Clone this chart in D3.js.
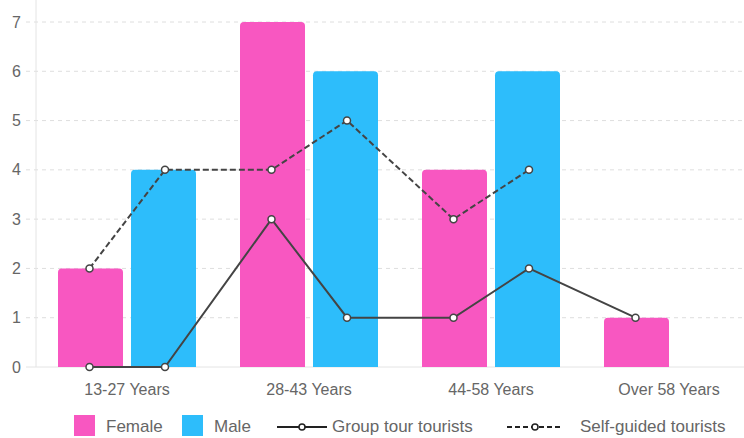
<!DOCTYPE html>
<html><head><meta charset="utf-8">
<script src="https://cdn.jsdelivr.net/npm/d3@7"></script>
<style>
html,body{margin:0;padding:0;background:#fff;}
svg{display:block;font-family:"Liberation Sans",Arial,Helvetica,sans-serif;}
</style></head>
<body>
<svg id="chart" width="744" height="438"></svg>
<script>
const categories = ["13-27 Years", "28-43 Years", "44-58 Years", "Over 58 Years"];
const female = [2, 7, 4, 1];
const male = [4, 6, 6, 0];
// line series: one point per (category, gender) slot; null = no point
const groupTour = [[0, 0], [3, 1], [1, 2], [1, null]];
const selfGuided = [[2, 4], [4, 5], [3, 4], [null, null]];
const yTicks = [0, 1, 2, 3, 4, 5, 6, 7];

const pink = "#f857c1", blue = "#2dbdfb", lineCol = "#444";
const svg = d3.select("#chart");
const x0 = 36, x1 = 764, yTop = 22, yBot = 367;

const x = d3.scaleBand().domain(categories).range([x0, x1]).paddingInner(0).paddingOuter(0);
const sub = d3.scaleBand().domain(["F", "M"]).range([0, x.bandwidth()]).paddingInner(8 / 73).paddingOuter(22 / 73);
const y = d3.scaleLinear().domain([0, 7]).range([yBot, yTop]);

// grid
const yAxis = d3.axisLeft(y).tickValues(yTicks).tickFormat(d3.format("d")).tickSize(0).tickPadding(0);
svg.append("g").selectAll("line").data(yTicks.filter(d => d > 0)).join("line")
  .attr("x1", 26).attr("x2", 744).attr("y1", d => y(d)).attr("y2", d => y(d))
  .attr("stroke", "#dedede").attr("stroke-width", 1).attr("stroke-dasharray", "4,4");
// axis lines
svg.append("line").attr("x1", x0).attr("x2", x0).attr("y1", 0).attr("y2", yBot).attr("stroke", "#e4e4e4");
svg.append("line").attr("x1", 26).attr("x2", 744).attr("y1", yBot).attr("y2", yBot).attr("stroke", "#e4e4e4");

const ga = svg.append("g").attr("transform", `translate(21,0)`).call(yAxis);
ga.select(".domain").remove();
ga.selectAll("text").attr("fill", "#666").attr("font-size", 16).attr("text-anchor", "end").attr("font-family", "Liberation Sans, Arial, sans-serif");

// bars
function roundTop(xp, yp, w, h, r) {
  r = Math.min(r, h);
  return `M${xp},${yp + h}V${yp + r}Q${xp},${yp} ${xp + r},${yp}H${xp + w - r}Q${xp + w},${yp} ${xp + w},${yp + r}V${yp + h}Z`;
}
const bars = [];
categories.forEach((c, i) => {
  bars.push({c, g: "F", v: female[i], col: pink});
  bars.push({c, g: "M", v: male[i], col: blue});
});
svg.append("g").selectAll("path").data(bars.filter(d => d.v > 0)).join("path")
  .attr("d", d => roundTop(x(d.c) + sub(d.g), y(d.v), sub.bandwidth(), y(0) - y(d.v), 4))
  .attr("fill", d => d.col);

// lines
function pts(series) {
  const out = [];
  categories.forEach((c, i) => {
    ["F", "M"].forEach((g, j) => {
      const v = series[i][j];
      if (v !== null) out.push({xp: x(c) + sub(g) + sub.bandwidth() / 2 + (j === 0 ? -1 : 1.5), v});
    });
  });
  return out;
}
const line = d3.line().x(d => d.xp).y(d => y(d.v));
[[groupTour, null], [selfGuided, "6,3"]].forEach(([s, dash]) => {
  const p = pts(s);
  svg.append("path").datum(p).attr("d", line).attr("fill", "none")
    .attr("stroke", lineCol).attr("stroke-width", 2).attr("stroke-dasharray", dash);
  svg.append("g").selectAll("circle").data(p).join("circle")
    .attr("cx", d => d.xp).attr("cy", d => y(d.v)).attr("r", 3.5)
    .attr("fill", "#fff").attr("stroke", lineCol).attr("stroke-width", 1.5);
});

// x labels
svg.append("g").selectAll("text").data(categories).join("text")
  .attr("x", d => x(d) + x.bandwidth() / 2 - (d === "Over 58 Years" ? 4 : 0)).attr("y", 395)
  .attr("text-anchor", "middle").attr("fill", "#666").attr("font-size", 16).text(d => d);

// legend
const lg = svg.append("g");
const lgItems = [
  {type: "box", col: pink, label: "Female", x: 74},
  {type: "box", col: blue, label: "Male", x: 182},
];
lgItems.forEach(it => {
  lg.append("rect").attr("x", it.x).attr("y", 415).attr("width", 21).attr("height", 21).attr("fill", it.col);
  lg.append("text").attr("x", it.x + 32).attr("y", 432).attr("fill", "#666").attr("font-size", 17).text(it.label);
});
const lineItems = [
  {dash: null, label: "Group tour tourists", x: 277, w: 50, tx: 332},
  {dash: "5,3", label: "Self-guided tourists", x: 507, w: 56, tx: 580},
];
lineItems.forEach(it => {
  lg.append("line").attr("x1", it.x).attr("x2", it.x + it.w).attr("y1", 427).attr("y2", 427)
    .attr("stroke", "#222").attr("stroke-width", 2).attr("stroke-dasharray", it.dash);
  lg.append("circle").attr("cx", it.x + it.w / 2).attr("cy", 427).attr("r", 3)
    .attr("fill", "#fff").attr("stroke", "#222").attr("stroke-width", 1.5);
  lg.append("text").attr("x", it.tx).attr("y", 432).attr("fill", "#666").attr("font-size", 17).text(it.label);
});
</script>
</body></html>
